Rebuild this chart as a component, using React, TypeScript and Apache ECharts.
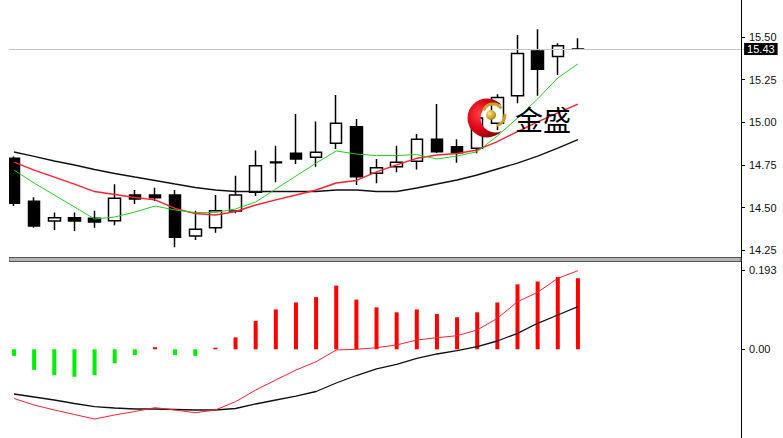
import React, { useEffect, useRef } from 'react';
import * as echarts from 'echarts';

// 29 daily candles + empty slots on the right (37 slots in total)
const slotCount = 37;
const categories = Array.from({ length: slotCount }, (_, i) => `K${i + 1}`);

const opens = [14.789, 14.537, 14.421, 14.441, 14.437, 14.423, 14.574, 14.574, 14.574, 14.334, 14.382, 14.480, 14.590, 14.763, 14.818, 14.795, 14.877, 14.974, 14.701, 14.740, 14.771, 14.900, 14.857, 14.848, 14.994, 15.156, 15.418, 15.385, 15.428];
const closes = [14.525, 14.392, 14.441, 14.421, 14.416, 14.555, 14.550, 14.558, 14.326, 14.373, 14.482, 14.574, 14.746, 14.768, 14.785, 14.824, 14.994, 14.681, 14.734, 14.766, 14.900, 14.828, 14.822, 15.025, 15.145, 15.404, 15.311, 15.449, 15.430];
const lows = [14.510, 14.382, 14.369, 14.363, 14.382, 14.396, 14.521, 14.539, 14.267, 14.310, 14.353, 14.467, 14.568, 14.648, 14.756, 14.740, 14.843, 14.632, 14.642, 14.707, 14.724, 14.820, 14.763, 14.818, 14.955, 15.111, 15.156, 15.277, 15.428];
const highs = [14.800, 14.560, 14.472, 14.472, 14.482, 14.637, 14.603, 14.617, 14.603, 14.482, 14.574, 14.687, 14.834, 14.863, 15.049, 15.004, 15.160, 15.019, 14.785, 14.863, 14.931, 15.107, 14.900, 15.060, 15.164, 15.512, 15.545, 15.463, 15.492];

const maFast = [14.720, 14.644, 14.574, 14.504, 14.433, 14.445, 14.474, 14.509, 14.486, 14.471, 14.471, 14.492, 14.533, 14.609, 14.685, 14.761, 14.832, 14.814, 14.805, 14.805, 14.811, 14.785, 14.802, 14.828, 14.920, 15.025, 15.137, 15.260, 15.342];
const maMid = [14.767, 14.720, 14.679, 14.638, 14.594, 14.577, 14.559, 14.545, 14.495, 14.465, 14.457, 14.477, 14.515, 14.545, 14.574, 14.603, 14.644, 14.659, 14.709, 14.750, 14.789, 14.808, 14.817, 14.838, 14.887, 14.946, 15.002, 15.055, 15.107];
const maSlow = [14.826, 14.800, 14.773, 14.750, 14.723, 14.700, 14.679, 14.659, 14.638, 14.618, 14.603, 14.594, 14.594, 14.594, 14.594, 14.594, 14.603, 14.603, 14.594, 14.594, 14.615, 14.638, 14.662, 14.691, 14.726, 14.761, 14.802, 14.849, 14.899];

const macdBars = [-0.016, -0.050, -0.063, -0.067, -0.063, -0.034, -0.014, 0.005, -0.014, -0.016, 0.004, 0.029, 0.069, 0.097, 0.114, 0.127, 0.155, 0.121, 0.102, 0.090, 0.097, 0.086, 0.078, 0.090, 0.114, 0.158, 0.165, 0.176, 0.173];
const macdRedLine = [-0.1197, -0.1356, -0.1477, -0.1587, -0.1696, -0.1599, -0.1514, -0.1421, -0.1477, -0.1543, -0.1477, -0.1275, -0.0991, -0.0747, -0.0504, -0.0302, -0.0017, 0.0, 0.0039, 0.0105, 0.0226, 0.0282, 0.0331, 0.0470, 0.0754, 0.1158, 0.1387, 0.1728, 0.1913];
const macdBlackLine = [-0.1088, -0.1161, -0.1234, -0.1319, -0.1397, -0.1429, -0.1453, -0.1453, -0.1465, -0.1477, -0.1477, -0.1441, -0.1331, -0.1234, -0.1137, -0.1027, -0.0820, -0.0638, -0.0479, -0.0365, -0.0219, -0.0114, -0.0034, 0.0063, 0.0202, 0.0389, 0.0633, 0.0835, 0.1037];

const priceMin = 14.25;
const priceMax = 15.75;
const priceStep = 0.25;
const macdTicks = [0, 0.193];
const lastPrice = 15.43;
const brandText = '金盛';

const LABEL_FONT = '"Liberation Sans", Arial, sans-serif';

// crescent shape of the brand logo (outer circle r=19.5 minus a circle r=14.5 shifted right)
let crescentRegistered = false;
function registerCrescent() {
  if (crescentRegistered) return;
  const d = 'M14.625 -12.9 A19.5 19.5 0 1 0 14.625 12.9 A14.5 14.5 0 1 1 14.625 -12.9 Z';
  echarts.graphic.registerShape('logoCrescent', (echarts.graphic as any).extendPath(d, {}));
  crescentRegistered = true;
}

export default function App() {
  const ref = useRef<HTMLDivElement>(null);

  useEffect(() => {
    if (!ref.current) return;
    registerCrescent();
    const chart = echarts.init(ref.current, undefined, { renderer: 'svg' });
    const candleData = opens.map((o, i) => [o, closes[i], lows[i], highs[i]]);

    const gridLeft = -5.07;
    const gridRight = 33.9;
    const axisOffset = -8.1;
    const gold = '#c9a227';

    const option: any = {
      animation: false,
      grid: [
        { left: gridLeft, right: gridRight, top: -5.65, height: 255.9, outerBoundsMode: 'none', containLabel: false },
        { left: gridLeft, right: gridRight, top: 270, height: 158.6, outerBoundsMode: 'none', containLabel: false },
      ],
      xAxis: [
        { type: 'category', data: categories, gridIndex: 0, boundaryGap: true, show: false },
        { type: 'category', data: categories, gridIndex: 1, boundaryGap: true, show: false },
      ],
      yAxis: [
        {
          type: 'value', gridIndex: 0, position: 'right', offset: axisOffset,
          min: priceMin, max: priceMax, interval: priceStep, scale: true,
          axisLine: { show: false },
          axisTick: { show: true, length: 4, lineStyle: { color: '#000' } },
          splitLine: { show: false },
          axisLabel: {
            margin: 8, color: '#111', fontSize: 11, fontFamily: LABEL_FONT,
            formatter: (v: number) => (v > priceMax - 0.01 ? '' : v.toFixed(2)),
          },
        },
        {
          type: 'value', gridIndex: 1, position: 'right', offset: axisOffset,
          min: -0.193, max: 0.193, interval: 0.193,
          axisLine: { show: false },
          axisTick: { show: true, length: 4, lineStyle: { color: '#000' }, customValues: macdTicks },
          splitLine: { show: false },
          axisLabel: {
            margin: 8, color: '#111', fontSize: 11, fontFamily: LABEL_FONT,
            customValues: macdTicks,
            formatter: (v: number) => (v < -1e-9 ? '' : Math.abs(v) < 1e-9 ? '0.00' : v.toFixed(3)),
          },
        },
      ],
      series: [
        {
          type: 'candlestick', xAxisIndex: 0, yAxisIndex: 0, data: candleData, barWidth: 12,
          itemStyle: { color: '#ffffff', color0: '#000000', borderColor: '#000000', borderColor0: '#000000', borderWidth: 1.5 },
          silent: true,
          markLine: {
            silent: true, symbol: 'none', animation: false,
            lineStyle: { color: '#c4c4c4', type: 'solid', width: 1 },
            label: {
              show: true, position: 'end', distance: -5, formatter: lastPrice.toFixed(2),
              color: '#fff', backgroundColor: '#000', padding: [1, 3, 0, 3],
              fontSize: 11, fontFamily: LABEL_FONT,
            },
            data: [{ yAxis: lastPrice }],
          },
        },
        { type: 'line', xAxisIndex: 0, yAxisIndex: 0, data: maSlow, showSymbol: false, silent: true, lineStyle: { color: '#111', width: 1.4 } },
        { type: 'line', xAxisIndex: 0, yAxisIndex: 0, data: maMid, showSymbol: false, silent: true, lineStyle: { color: '#ff2030', width: 1.4 } },
        { type: 'line', xAxisIndex: 0, yAxisIndex: 0, data: maFast, showSymbol: false, silent: true, lineStyle: { color: '#22cc22', width: 1 } },
        {
          type: 'bar', xAxisIndex: 1, yAxisIndex: 1, barWidth: 4, silent: true,
          data: macdBars.map((v) => ({ value: v, itemStyle: { color: v >= 0 ? '#ff0000' : '#00ee00' } })),
        },
        { type: 'line', xAxisIndex: 1, yAxisIndex: 1, data: macdBlackLine, showSymbol: false, silent: true, lineStyle: { color: '#111', width: 1.3 } },
        { type: 'line', xAxisIndex: 1, yAxisIndex: 1, data: macdRedLine, showSymbol: false, silent: true, lineStyle: { color: '#ff2030', width: 1 } },
      ],
      graphic: [
        { type: 'line', z: 50, silent: true, shape: { x1: 732.5, y1: 0, x2: 732.5, y2: 438 }, style: { stroke: '#000', lineWidth: 1 } },
        { type: 'rect', z: 50, silent: true, shape: { x: 0, y: 257.5, width: 732, height: 4 }, style: { fill: '#b4b4b4', stroke: '#555', lineWidth: 1 } },
        {
          type: 'logoCrescent', z: 60, silent: true, x: 478, y: 118,
          style: {
            fill: new echarts.graphic.RadialGradient(0.35, 0.4, 0.75, [
              { offset: 0, color: '#ff4040' },
              { offset: 0.55, color: '#d80014' },
              { offset: 1, color: '#7a0000' },
            ]),
          },
        },
        {
          type: 'arc', z: 61, silent: true, shape: { cx: 484, cy: 114, r: 10, startAngle: 3.5, endAngle: 5.7 },
          style: { stroke: gold, lineWidth: 3, fill: 'none' },
        },
        {
          type: 'arc', z: 61, silent: true, shape: { cx: 485, cy: 115, r: 11, startAngle: -0.1, endAngle: 1.3 },
          style: { stroke: gold, lineWidth: 3, fill: 'none' },
        },
        {
          type: 'circle', z: 62, silent: true, shape: { cx: 482, cy: 115, r: 5 },
          style: {
            fill: new echarts.graphic.RadialGradient(0.35, 0.35, 0.8, [
              { offset: 0, color: '#fbe58a' },
              { offset: 0.6, color: gold },
              { offset: 1, color: '#8a6a10' },
            ]),
          },
        },
        {
          type: 'text', z: 62, silent: true, x: 506, y: 119,
          style: { text: brandText, fontSize: 28, fontFamily: '"Noto Sans CJK SC", sans-serif', fill: '#000', verticalAlign: 'middle', align: 'left' },
        },
      ],
    };

    chart.setOption(option);
    return () => chart.dispose();
  }, []);

  return (
    <div
      ref={ref}
      style={{ position: 'absolute', left: 9, top: 0, width: 774, height: 438, background: '#fff' }}
    />
  );
}
